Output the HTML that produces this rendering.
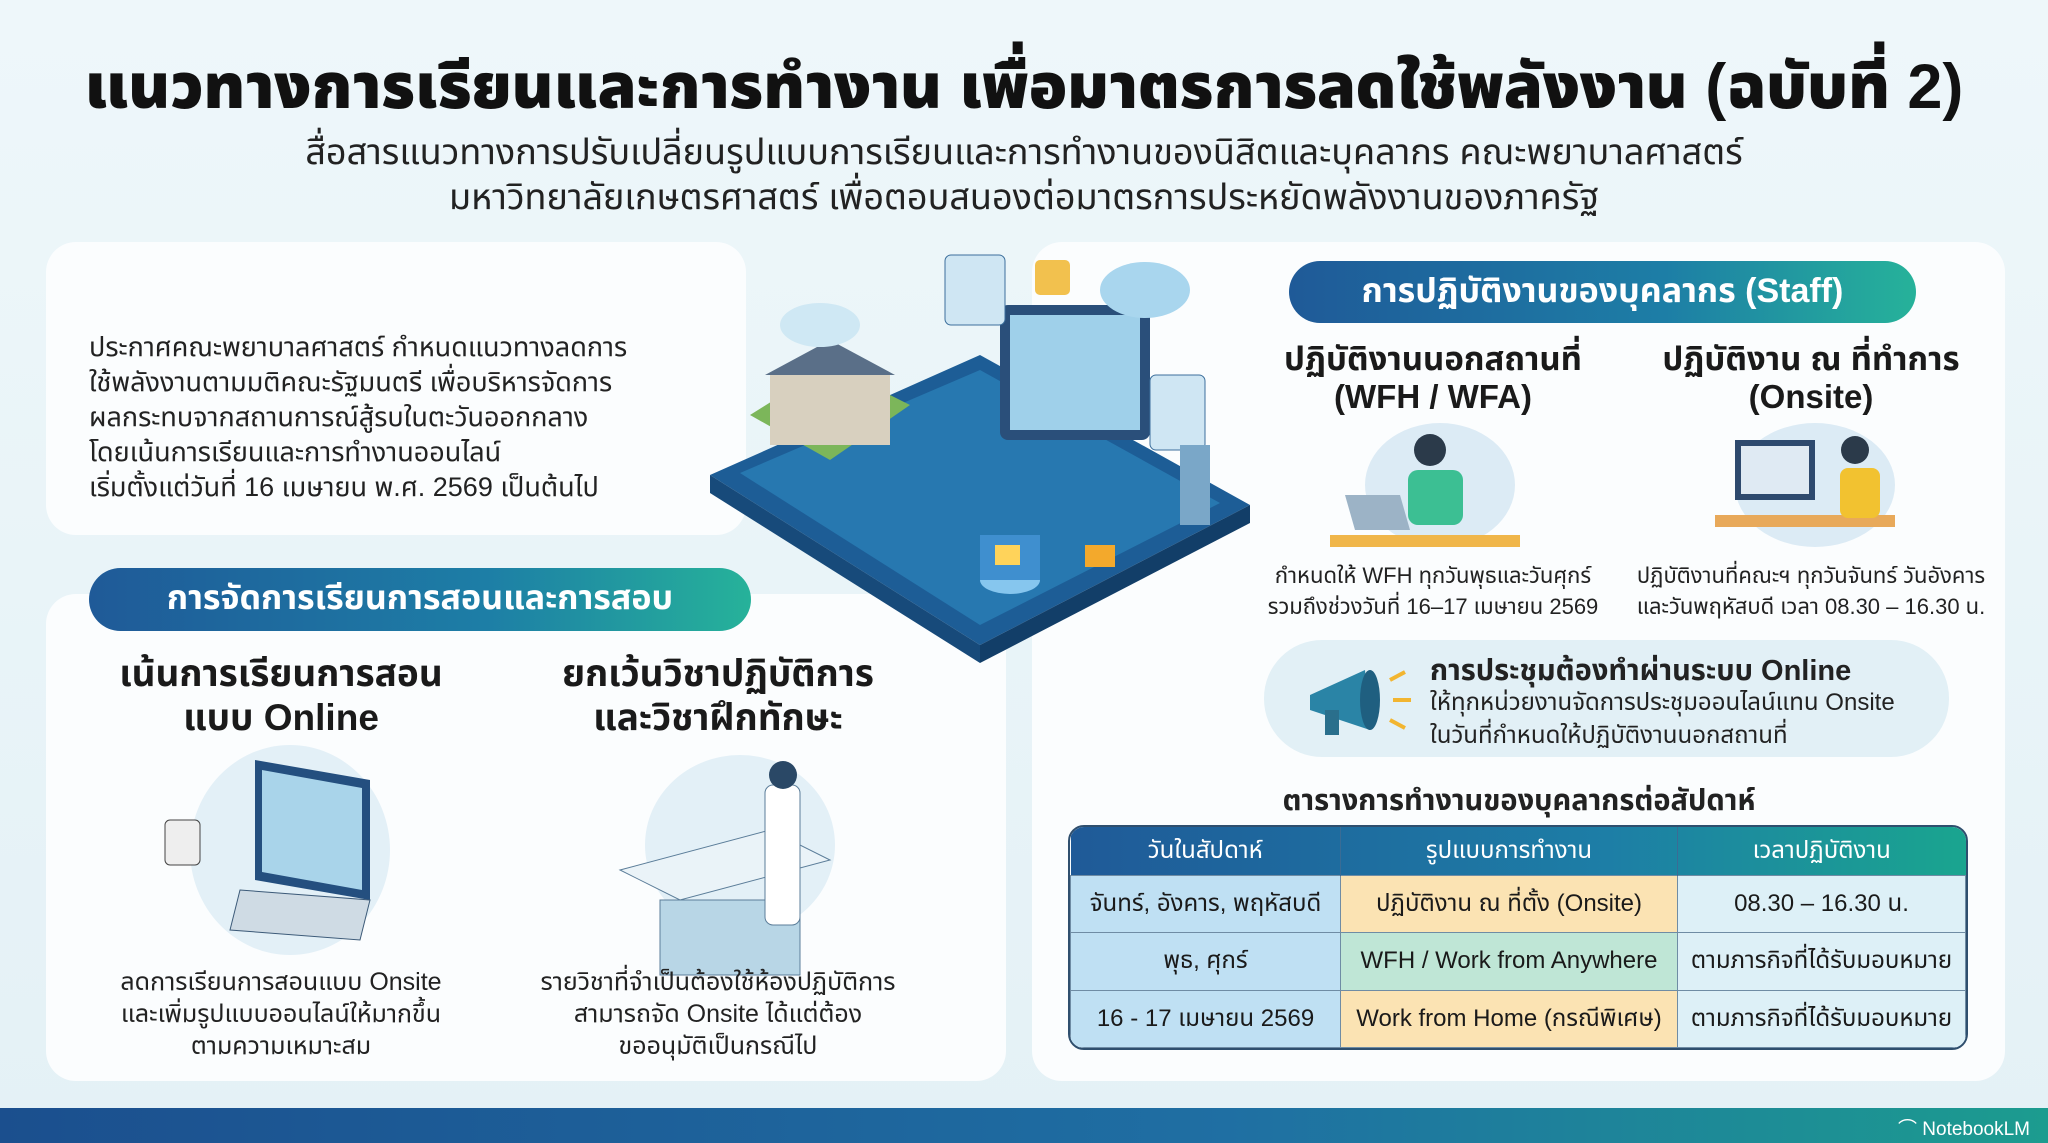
<!DOCTYPE html>
<html><head><meta charset="utf-8">
<style>
*{margin:0;padding:0;box-sizing:border-box}
body{width:2048px;height:1143px;overflow:hidden;background:linear-gradient(180deg,#eef7fa 0%,#e4f1f6 100%);font-family:"Liberation Sans","Noto Sans Thai","Loma","Garuda",sans-serif;color:#1a1a1a;position:relative}
.a{position:absolute}
.card{position:absolute;background:#fbfdfe;border-radius:30px}
.t{position:absolute;white-space:nowrap}
.c{text-align:center;transform:translateX(-50%)}
.pill{position:absolute;border-radius:32px;background:linear-gradient(90deg,#1f5a98,#1d7ea6 60%,#26b29a);color:#fff;font-weight:bold;display:flex;align-items:center;justify-content:center}
table{border-collapse:collapse}
</style></head><body>
<div class="t c" style="left:1024px;top:42px;font-size:63px;font-weight:900;color:#111">แนวทางการเรียนและการทำงาน เพื่อมาตรการลดใช้พลังงาน (ฉบับที่ 2)</div>
<div class="t c" style="left:1024px;top:127px;font-size:36px;color:#222">สื่อสารแนวทางการปรับเปลี่ยนรูปแบบการเรียนและการทำงานของนิสิตและบุคลากร คณะพยาบาลศาสตร์</div>
<div class="t c" style="left:1024px;top:172px;font-size:36px;color:#222">มหาวิทยาลัยเกษตรศาสตร์ เพื่อตอบสนองต่อมาตรการประหยัดพลังงานของภาครัฐ</div>

<div class="card" style="left:46px;top:242px;width:700px;height:293px"></div>
<div class="card" style="left:46px;top:594px;width:960px;height:487px"></div>
<div class="card" style="left:1032px;top:242px;width:973px;height:839px"></div>

<div class="t" style="left:89px;top:330px;font-size:27px;line-height:35px;color:#222">ประกาศคณะพยาบาลศาสตร์ กำหนดแนวทางลดการ<br>ใช้พลังงานตามมติคณะรัฐมนตรี เพื่อบริหารจัดการ<br>ผลกระทบจากสถานการณ์สู้รบในตะวันออกกลาง<br>โดยเน้นการเรียนและการทำงานออนไลน์<br>เริ่มตั้งแต่วันที่ 16 เมษายน พ.ศ. 2569 เป็นต้นไป</div>

<svg class="a" style="left:690px;top:245px" width="580" height="420" viewBox="0 0 580 420">
<polygon points="20,230 290,110 560,260 290,400" fill="#1d5d96"/>
<polygon points="20,230 290,400 290,418 20,248" fill="#174a7a"/>
<polygon points="290,400 560,260 560,278 290,418" fill="#123e68"/>
<polygon points="50,228 290,125 530,258 290,380" fill="#2778b0"/>
<polygon points="60,170 140,120 220,160 140,215" fill="#7cb65a"/>
<rect x="80" y="130" width="120" height="70" fill="#d8d0bf"/>
<polygon points="75,130 140,95 205,130" fill="#5a6f88"/>
<rect x="310" y="60" width="150" height="135" rx="8" fill="#2a4f7a"/>
<rect x="320" y="70" width="130" height="115" fill="#9fd0ea"/>
<rect x="255" y="10" width="60" height="70" rx="6" fill="#cfe6f3" stroke="#3c6f9c"/>
<rect x="460" y="130" width="55" height="75" rx="6" fill="#cfe6f3" stroke="#3c6f9c"/>
<rect x="345" y="15" width="35" height="35" rx="5" fill="#f2c14e"/>
<ellipse cx="455" cy="45" rx="45" ry="28" fill="#a9d6ee"/>
<ellipse cx="130" cy="80" rx="40" ry="22" fill="#cfe8f4"/>
<rect x="490" y="200" width="30" height="80" fill="#7aa7c8"/>
<ellipse cx="320" cy="335" rx="30" ry="14" fill="#86c6ee"/>
<rect x="290" y="290" width="60" height="45" fill="#3f8fcf"/>
<rect x="305" y="300" width="25" height="20" fill="#ffd35a"/>
<rect x="395" y="300" width="30" height="22" fill="#f3a92c"/>
</svg>

<div class="pill" style="left:89px;top:568px;width:662px;height:63px;font-size:34px">การจัดการเรียนการสอนและการสอบ</div>
<div class="t c" style="left:281px;top:652px;font-size:37px;font-weight:bold;line-height:44px">เน้นการเรียนการสอน<br>แบบ Online</div>
<div class="t c" style="left:718px;top:652px;font-size:37px;font-weight:bold;line-height:44px">ยกเว้นวิชาปฏิบัติการ<br>และวิชาฝึกทักษะ</div>
<svg class="a" style="left:160px;top:740px" width="240" height="220"><ellipse cx="130" cy="110" rx="100" ry="105" fill="#e3f0f7"/><polygon points="95,20 210,40 210,160 95,140" fill="#244f7f"/><polygon points="102,30 202,48 202,150 102,132" fill="#a9d4ea"/><polygon points="80,150 210,160 200,200 70,190" fill="#cfdbe4" stroke="#3c5a78"/><rect x="5" y="80" width="35" height="45" rx="5" fill="#eee" stroke="#444"/></svg>
<svg class="a" style="left:600px;top:750px" width="240" height="230"><ellipse cx="140" cy="95" rx="95" ry="90" fill="#e3f0f7"/><polygon points="20,120 170,80 230,110 80,150" fill="#eaf3f8" stroke="#5b7d99"/><rect x="60" y="150" width="140" height="75" fill="#b8d6e6" stroke="#5b7d99"/><rect x="165" y="35" width="35" height="140" rx="8" fill="#fff" stroke="#5b7d99"/><circle cx="183" cy="25" r="14" fill="#2a4866"/></svg>
<div class="t c" style="left:281px;top:966px;font-size:25px;line-height:32px;color:#222">ลดการเรียนการสอนแบบ Onsite<br>และเพิ่มรูปแบบออนไลน์ให้มากขึ้น<br>ตามความเหมาะสม</div>
<div class="t c" style="left:718px;top:966px;font-size:25px;line-height:32px;color:#222">รายวิชาที่จำเป็นต้องใช้ห้องปฏิบัติการ<br>สามารถจัด Onsite ได้แต่ต้อง<br>ขออนุมัติเป็นกรณีไป</div>

<div class="pill" style="left:1289px;top:261px;width:627px;height:62px;font-size:34px">การปฏิบัติงานของบุคลากร (Staff)</div>
<div class="t c" style="left:1433px;top:340px;font-size:33px;font-weight:bold;line-height:38px">ปฏิบัติงานนอกสถานที่<br>(WFH / WFA)</div>
<div class="t c" style="left:1811px;top:340px;font-size:33px;font-weight:bold;line-height:38px">ปฏิบัติงาน ณ ที่ทำการ<br>(Onsite)</div>
<svg class="a" style="left:1330px;top:420px" width="200" height="135"><ellipse cx="110" cy="65" rx="75" ry="62" fill="#dcebf5"/><rect x="0" y="115" width="190" height="12" fill="#f0b64a"/><circle cx="100" cy="30" r="16" fill="#2b3a4a"/><rect x="78" y="50" width="55" height="55" rx="10" fill="#3cbf93"/><polygon points="15,75 70,75 80,110 25,110" fill="#9cb3c6"/></svg>
<svg class="a" style="left:1705px;top:420px" width="220" height="135"><ellipse cx="110" cy="65" rx="80" ry="62" fill="#dcebf5"/><rect x="10" y="95" width="180" height="12" fill="#e8a95a"/><rect x="30" y="20" width="80" height="60" fill="#2e4a6e"/><rect x="36" y="26" width="68" height="48" fill="#dfeaf3"/><circle cx="150" cy="30" r="14" fill="#2b3a4a"/><rect x="135" y="48" width="40" height="50" rx="8" fill="#f2c230"/></svg>
<div class="t c" style="left:1433px;top:560px;font-size:22px;line-height:31px;color:#222">กำหนดให้ WFH ทุกวันพุธและวันศุกร์<br>รวมถึงช่วงวันที่ 16–17 เมษายน 2569</div>
<div class="t c" style="left:1811px;top:560px;font-size:22px;line-height:31px;color:#222">ปฏิบัติงานที่คณะฯ ทุกวันจันทร์ วันอังคาร<br>และวันพฤหัสบดี เวลา 08.30 – 16.30 น.</div>

<div class="a" style="left:1264px;top:640px;width:685px;height:117px;border-radius:58px;background:#e2f0f6"></div>
<svg class="a" style="left:1295px;top:655px" width="120" height="90"><polygon points="15,40 70,15 75,75 15,55" fill="#2a84a6"/><ellipse cx="75" cy="45" rx="10" ry="30" fill="#1f5f80"/><rect x="30" y="55" width="14" height="25" fill="#2a6f8c"/><path d="M95 25 l15 -8 M98 45 h18 M95 65 l15 8" stroke="#f2b530" stroke-width="4"/></svg>
<div class="t" style="left:1430px;top:650px;font-size:29px;font-weight:bold;color:#222">การประชุมต้องทำผ่านระบบ Online</div>
<div class="t" style="left:1430px;top:686px;font-size:24px;line-height:33px;color:#222">ให้ทุกหน่วยงานจัดการประชุมออนไลน์แทน Onsite<br>ในวันที่กำหนดให้ปฏิบัติงานนอกสถานที่</div>

<div class="t c" style="left:1519px;top:780px;font-size:29px;font-weight:bold;color:#222">ตารางการทำงานของบุคลากรต่อสัปดาห์</div>
<div class="a" style="left:1068px;top:825px;width:900px;height:225px;border-radius:16px;overflow:hidden;border:2px solid #2f4f6e">
<table style="width:100%;height:100%;font-size:24px;text-align:center">
<tr style="height:48px;color:#fff;background:linear-gradient(90deg,#1f5a98,#1d7ea6 60%,#1aa58f)"><td style="width:270px;border-right:1px solid #3a6c95">วันในสัปดาห์</td><td style="width:337px;border-right:1px solid #3a6c95">รูปแบบการทำงาน</td><td>เวลาปฏิบัติงาน</td></tr>
<tr><td style="background:#bfe0f3;border:1px solid #6f8ca4">จันทร์, อังคาร, พฤหัสบดี</td><td style="background:#fbe3b3;border:1px solid #6f8ca4">ปฏิบัติงาน ณ ที่ตั้ง (Onsite)</td><td style="background:#ddf0f7;border:1px solid #6f8ca4">08.30 – 16.30 น.</td></tr>
<tr><td style="background:#bfe0f3;border:1px solid #6f8ca4">พุธ, ศุกร์</td><td style="background:#bfe6d6;border:1px solid #6f8ca4">WFH / Work from Anywhere</td><td style="background:#ddf0f7;border:1px solid #6f8ca4">ตามภารกิจที่ได้รับมอบหมาย</td></tr>
<tr><td style="background:#bfe0f3;border:1px solid #6f8ca4">16 - 17 เมษายน 2569</td><td style="background:#fbe3b3;border:1px solid #6f8ca4">Work from Home (กรณีพิเศษ)</td><td style="background:#ddf0f7;border:1px solid #6f8ca4">ตามภารกิจที่ได้รับมอบหมาย</td></tr>
</table></div>

<div class="a" style="left:0;top:1108px;width:2048px;height:35px;background:linear-gradient(90deg,#1b4f8e,#1f6fa3 60%,#1c9c8f)"></div>
<div class="t" style="left:1898px;top:1114px;font-size:19px;color:#fff">⌒ NotebookLM</div>
</body></html>
